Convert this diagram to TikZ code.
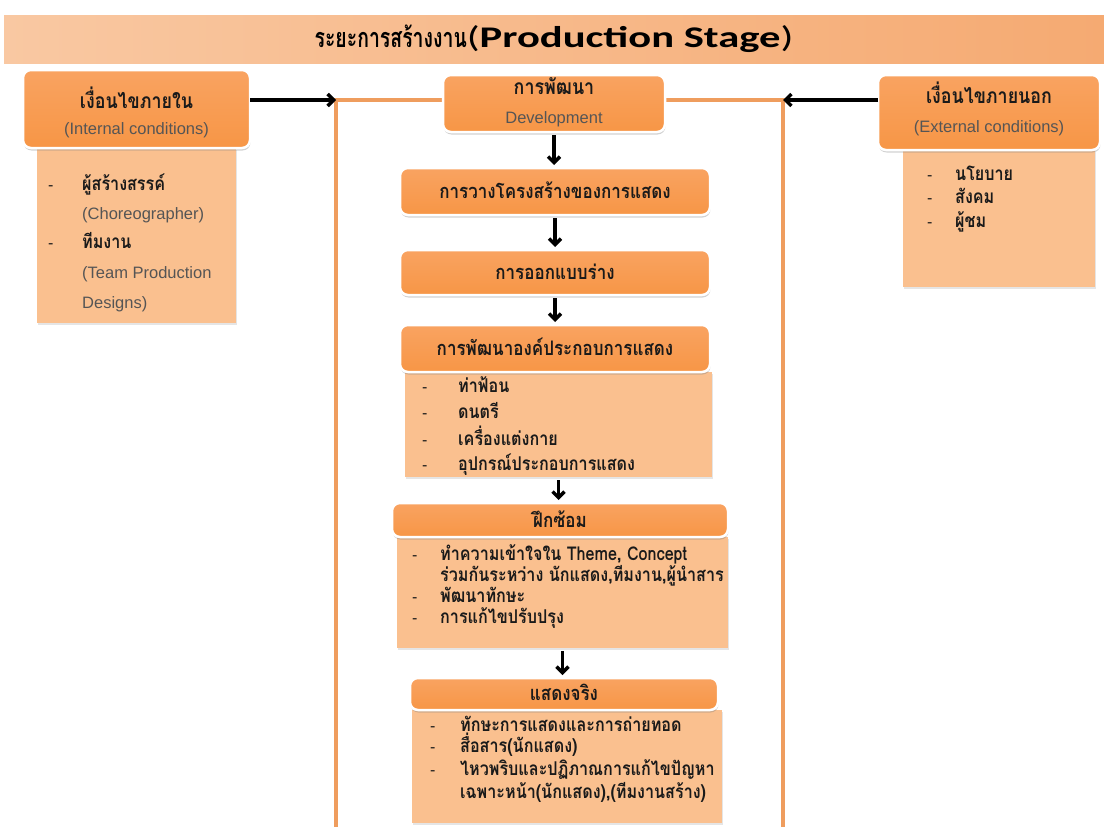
\documentclass[tikz,border=0pt]{standalone}
\usepackage{fontspec}
\setmainfont{Liberation Sans}
\newfontfamily\thaifont[Script=Thai,FakeStretch=0.85]{Loma}
\newfontfamily\thaititle[Script=Thai,FakeStretch=0.72]{Loma}
\newfontfamily\calib[FakeStretch=1.42]{Carlito}
\newcommand\thaib{\thaifont\bfseries}
\usetikzlibrary{arrows.meta,shadows}
\definecolor{hdr}{HTML}{F79646}
\definecolor{hdrtop}{HTML}{F9A361}
\definecolor{lst}{HTML}{FAC08F}
\definecolor{framec}{HTML}{EF9D5E}
\definecolor{bandl}{HTML}{F9C8A2}
\definecolor{bandr}{HTML}{F5AA72}
\definecolor{engc}{HTML}{555555}
\definecolor{txt}{HTML}{1A1A1A}
\newcommand\engsubfont{\normalfont\fontsize{16.5}{19}\selectfont\color{engc}}
\tikzset{
  hdrbox/.style={rectangle, rounded corners=8pt, top color=hdrtop, bottom color=hdr, draw=white, line width=2.5pt, inner sep=0pt, outer sep=0pt,
    drop shadow={shadow xshift=0.5pt, shadow yshift=-2.5pt, opacity=0.35}},
  lstbox/.style={rectangle, fill=lst, inner sep=0pt, outer sep=0pt,
    drop shadow={shadow xshift=1pt, shadow yshift=-1.5pt, opacity=0.2}},
  frameline/.style={draw=framec, line width=4pt},
  arr/.style={draw=black, line width=3.4pt, -{Straight Barb[length=6pt,width=12pt]}},
  varr/.style={arr, shorten <=3pt, shorten >=3pt},
  hdrtext/.style={align=center, inner sep=0pt, text=txt, font=\thaib\fontsize{21}{24}\selectfont},
  thb/.style={font=\thaib\fontsize{20}{24}\selectfont, text=txt, inner sep=0pt},
  thl/.style={font=\thaib\fontsize{19}{22}\selectfont, text=txt, inner sep=0pt, anchor=base west},
  dsh/.style={font=\fontsize{16}{18}\selectfont, text=txt, inner sep=0pt, anchor=base west},
  engl/.style={font=\fontsize{16.5}{19}\selectfont, text=engc, inner sep=0pt, anchor=base west},
}
\begin{document}
\begin{tikzpicture}[x=1pt,y=-1pt]
\useasboundingbox[fill=white] (0,0) rectangle (1104,827);
% title band
\node[rectangle, left color=bandl, right color=bandr, minimum width=1100pt, minimum height=48pt, inner sep=0pt] (title) at (554,39)
  {{\thaititle\bfseries\fontsize{27}{30}\selectfont ระยะการสร้างงาน}{\calib\fontsize{30}{36}\selectfont(\textbf{Production Stage})}};
% frame
\coordinate (ftl) at (336,100);
\coordinate (ftr) at (783,100);
\coordinate (fbl) at (336,830);
\coordinate (fbr) at (783,830);
\draw[frameline] (fbl) -- (ftl) -- (ftr) -- (fbr);
% list boxes
\node[lstbox, minimum width=199pt, minimum height=175pt] (inlst) at (136.5,235.5) {};
\node[lstbox, minimum width=192pt, minimum height=137pt] (exlst) at (999,218.5) {};
\node[lstbox, minimum width=307pt, minimum height=105pt] (l4) at (558.5,424.5) {};
\node[lstbox, minimum width=331pt, minimum height=111pt] (l5) at (562.5,592.5) {};
\node[lstbox, minimum width=310pt, minimum height=113pt] (l6) at (567,766.5) {};
% header boxes
\node[hdrbox, minimum width=227pt, minimum height=78pt] (inhdr) at (136.5,109) {};
\node[hdrbox, minimum width=222pt, minimum height=75pt] (exhdr) at (989,112.5) {};
\node[hdrbox, minimum width=222pt, minimum height=57pt] (dev) at (554,103.5) {};
\node[hdrbox, minimum width=310pt, minimum height=47pt] (b2) at (555,191.5) {};
\node[hdrbox, minimum width=310pt, minimum height=45pt] (b3) at (555,272.5) {};
\node[hdrbox, minimum width=310pt, minimum height=47pt] (b4) at (555,348.5) {};
\node[hdrbox, minimum width=336pt, minimum height=34pt] (b5) at (560,520) {};
\node[hdrbox, minimum width=308pt, minimum height=32pt] (b6) at (564,694) {};
% header texts
\node[hdrtext] (inhdrt) at (136.5,112) {เงื่อนไขภายใน\\[2pt]{\engsubfont (Internal conditions)}};
\node[hdrtext] (exhdrt) at (989,109) {เงื่อนไขภายนอก\\[5pt]{\engsubfont (External conditions)}};
\node[hdrtext] (devt) at (554,102) {การพัฒนา\\[5pt]{\engsubfont Development}};
\node[thb] (b2t) at (555,190) {การวางโครงสร้างของการแสดง};
\node[thb] (b3t) at (555,272) {การออกแบบร่าง};
\node[thb] (b4t) at (555,347) {การพัฒนาองค์ประกอบการแสดง};
\node[thb] (b5t) at (560,519) {ฝึกซ้อม};
\node[thb] (b6t) at (564,692) {แสดงจริง};
% left list
\node[dsh] (ind1) at (48,190) {-};
\node[thl] (in1) at (82,190) {ผู้สร้างสรรค์};
\node[engl] (in2) at (82,219) {(Choreographer)};
\node[dsh] (ind2) at (48,248) {-};
\node[thl] (in3) at (82,248) {ทีมงาน};
\node[engl] (in4) at (82,278) {(Team Production};
\node[engl] (in5) at (82,308) {Designs)};
% right list
\node[dsh] (exd1) at (927,180) {-};
\node[thl] (ex1) at (955,180) {นโยบาย};
\node[dsh] (exd2) at (927,203) {-};
\node[thl] (ex2) at (955,203) {สังคม};
\node[dsh] (exd3) at (927,227) {-};
\node[thl] (ex3) at (955,227) {ผู้ชม};
% list 4
\node[dsh] (l4d1) at (422,392) {-};
\node[thl] (l4a) at (458,392) {ท่าฟ้อน};
\node[dsh] (l4d2) at (422,418) {-};
\node[thl] (l4b) at (458,418) {ดนตรี};
\node[dsh] (l4d3) at (422,445) {-};
\node[thl] (l4c) at (458,445) {เครื่องแต่งกาย};
\node[dsh] (l4d4) at (422,470) {-};
\node[thl] (l4e) at (458,470) {อุปกรณ์ประกอบการแสดง};
% list 5
\node[dsh] (l5d1) at (412,560) {-};
\node[thl] (l5a) at (440,560) {ทำความเข้าใจใน Theme, Concept};
\node[thl] (l5b) at (440,581) {ร่วมกันระหว่าง นักแสดง,ทีมงาน,ผู้นำสาร};
\node[dsh] (l5d2) at (412,602) {-};
\node[thl] (l5c) at (440,602) {พัฒนาทักษะ};
\node[dsh] (l5d3) at (412,623) {-};
\node[thl] (l5e) at (440,623) {การแก้ไขปรับปรุง};
% list 6
\node[dsh] (l6d1) at (430,731) {-};
\node[thl] (l6a) at (460,731) {ทักษะการแสดงและการถ่ายทอด};
\node[dsh] (l6d2) at (430,752) {-};
\node[thl] (l6b) at (460,752) {สื่อสาร(นักแสดง)};
\node[dsh] (l6d3) at (430,775) {-};
\node[thl] (l6c) at (460,775) {ไหวพริบและปฏิภาณการแก้ไขปัญหา};
\node[thl] (l6e) at (460,798) {เฉพาะหน้า(นักแสดง),(ทีมงานสร้าง)};
% arrows
\draw[arr] (inhdr.east |- ftl) -- (ftl);
\draw[arr] (exhdr.west |- ftr) -- (ftr);
\draw[varr] (dev.south) -- (dev.south |- b2.north);
\draw[varr] (b2.south) -- (b3.north);
\draw[varr] (b3.south) -- (b4.north);
\draw[varr] (l4.south) -- (l4.south |- b5.north);
\draw[varr] (l5.south) -- (l5.south |- b6.north);
\end{tikzpicture}
\end{document}
